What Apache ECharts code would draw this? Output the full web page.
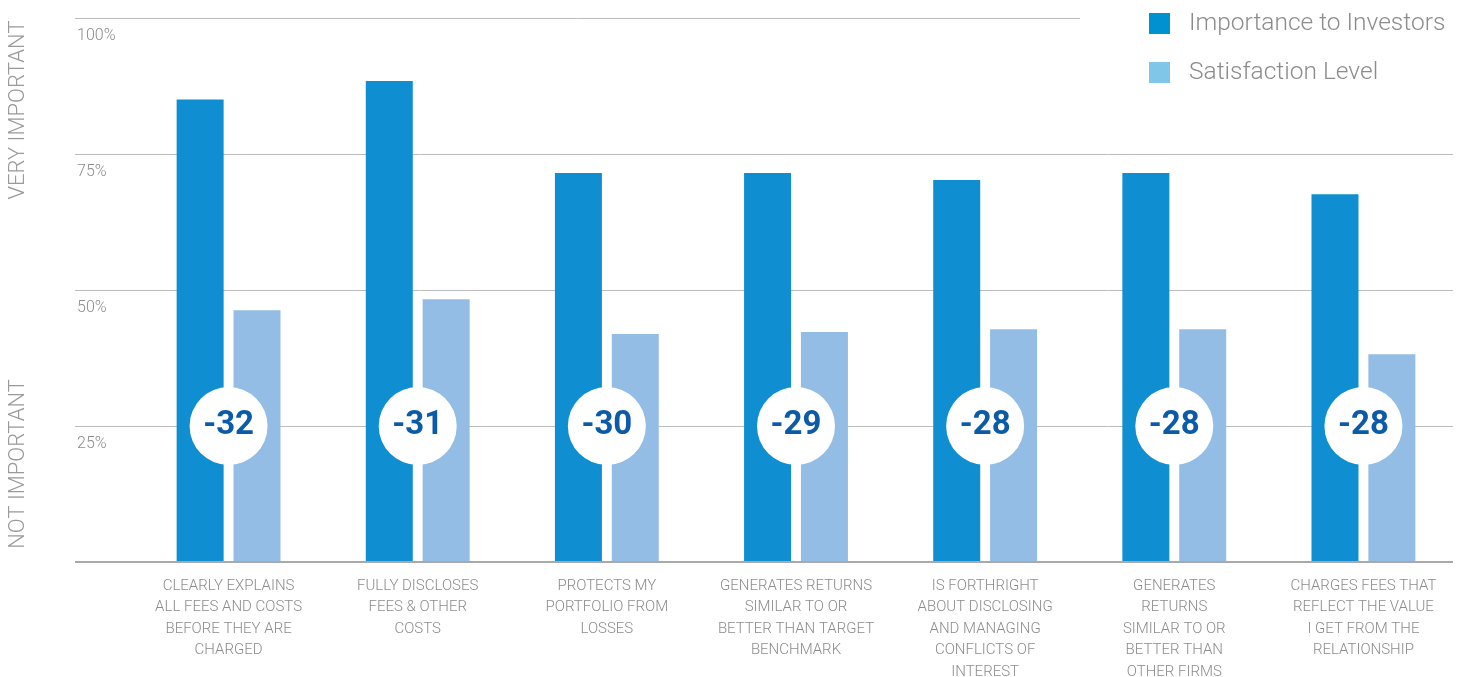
<!DOCTYPE html>
<html>
<head>
<meta charset="utf-8">
<script src="https://cdn.jsdelivr.net/npm/echarts@6/dist/echarts.min.js"></script>
<style>
html,body{margin:0;padding:0;background:#fff;}
#c{width:1465px;height:677px;}
</style>
</head>
<body>
<div id="c"></div>
<script>
const categories = [
  'CLEARLY EXPLAINS\nALL FEES AND COSTS\nBEFORE THEY ARE\nCHARGED',
  'FULLY DISCLOSES\nFEES & OTHER\nCOSTS',
  'PROTECTS MY\nPORTFOLIO FROM\nLOSSES',
  'GENERATES RETURNS\nSIMILAR TO OR\nBETTER THAN TARGET\nBENCHMARK',
  'IS FORTHRIGHT\nABOUT DISCLOSING\nAND MANAGING\nCONFLICTS OF\nINTEREST',
  'GENERATES\nRETURNS\nSIMILAR TO OR\nBETTER THAN\nOTHER FIRMS',
  'CHARGES FEES THAT\nREFLECT THE VALUE\nI GET FROM THE\nRELATIONSHIP'
];
const importance = [85, 88.4, 71.5, 71.5, 70.2, 71.5, 67.6];
const satisfaction = [46.3, 48.3, 41.9, 42.3, 42.8, 42.8, 38.2];
const gaps = [-32, -31, -30, -29, -28, -28, -28];
const yTicks = [0, 25, 50, 75, 100];

const FONT = 'Roboto';
const GRAY = '#8c8c8c';
const CIRCLE_LEVEL = 25;

const chart = echarts.init(document.getElementById('c'));
chart.setOption({
  animation: false,
  textStyle: { fontFamily: FONT },
  legend: {
    orient: 'vertical',
    left: 1149, top: 11, padding: 0,
    itemWidth: 21, itemHeight: 21, itemGap: 24,
    icon: 'rect',
    textStyle: { fontSize: 24.5, color: GRAY, fontWeight: 300, padding: [0, 0, 0, 14] },
    data: [
      { name: 'Importance to Investors', itemStyle: { color: '#0091d0' } },
      { name: 'Satisfaction Level', itemStyle: { color: '#80c6e8' } }
    ]
  },
  grid: [
    { left: 75, right: 12, top: 18, bottom: 115, outerBoundsMode: 'none', containLabel: false },
    { left: 134, right: 7, top: 18, bottom: 115, outerBoundsMode: 'none', containLabel: false },
    { left: 75, right: 385, top: 18, bottom: 115, outerBoundsMode: 'none', containLabel: false }
  ],
  xAxis: [
    { gridIndex: 0, type: 'value', min: 0, max: 1, axisLine: { show: false }, axisTick: { show: false }, axisLabel: { show: false }, splitLine: { show: false } },
    { gridIndex: 1, type: 'category', data: categories,
      axisLine: { show: false }, axisTick: { show: false },
      axisLabel: { interval: 0, margin: 13, fontSize: 15, lineHeight: 21.5, color: GRAY, fontWeight: 300, align: 'center' } },
    { gridIndex: 2, type: 'value', min: 0, max: 1, show: false }
  ],
  yAxis: [
    { gridIndex: 0, type: 'value', min: yTicks[0], max: yTicks[yTicks.length - 1], interval: 25,
      axisLine: { show: false }, axisTick: { show: false },
      splitLine: { show: true, showMaxLine: false, lineStyle: { color: '#bdbdbd', width: 1 } },
      axisLabel: { inside: true, margin: 2, verticalAlign: 'top', padding: [10, 0, 0, 0], fontSize: 16, color: GRAY, fontWeight: 300,
        formatter: v => (v === 0 ? '' : v + '%') } },
    { gridIndex: 1, type: 'value', min: 0, max: 100, show: false },
    { gridIndex: 2, type: 'value', min: 0, max: 100, interval: 100,
      axisLine: { show: false }, axisTick: { show: false }, axisLabel: { show: false },
      splitLine: { show: true, showMinLine: false, lineStyle: { color: '#bdbdbd', width: 1 } } }
  ],
  graphic: [
    { type: 'line', shape: { x1: 75, y1: 562, x2: 1453, y2: 562 }, style: { stroke: '#a9a9a9', lineWidth: 2 }, z: 5 },
    { type: 'text', x: 18, y: 110, rotation: Math.PI / 2,
      style: { text: 'VERY IMPORTANT', fill: '#9a9a9a', fontSize: 22, fontFamily: FONT, fontWeight: 300, align: 'center', verticalAlign: 'middle' } },
    { type: 'text', x: 18, y: 464, rotation: Math.PI / 2,
      style: { text: 'NOT IMPORTANT', fill: '#9a9a9a', fontSize: 22, fontFamily: FONT, fontWeight: 300, align: 'center', verticalAlign: 'middle' } }
  ],
  series: [
    { name: 'Importance to Investors', type: 'bar', xAxisIndex: 1, yAxisIndex: 1,
      data: importance, barWidth: 47, barGap: '21%', itemStyle: { color: '#0f8fd2' }, z: 2 },
    { name: 'Satisfaction Level', type: 'bar', xAxisIndex: 1, yAxisIndex: 1,
      data: satisfaction, barWidth: 47, barGap: '21%', itemStyle: { color: '#94bde6' }, z: 2 },
    { name: 'gap', type: 'scatter', xAxisIndex: 1, yAxisIndex: 1,
      data: gaps.map(g => ({ value: CIRCLE_LEVEL, gap: g })),
      symbol: 'circle', symbolSize: 78, itemStyle: { color: '#ffffff', opacity: 1 }, z: 10,
      label: { show: true, position: 'inside', formatter: p => String(p.data.gap),
        fontSize: 33, fontWeight: 'bold', color: '#0c5ba8', fontFamily: FONT } }
  ]
});
</script>
</body>
</html>
